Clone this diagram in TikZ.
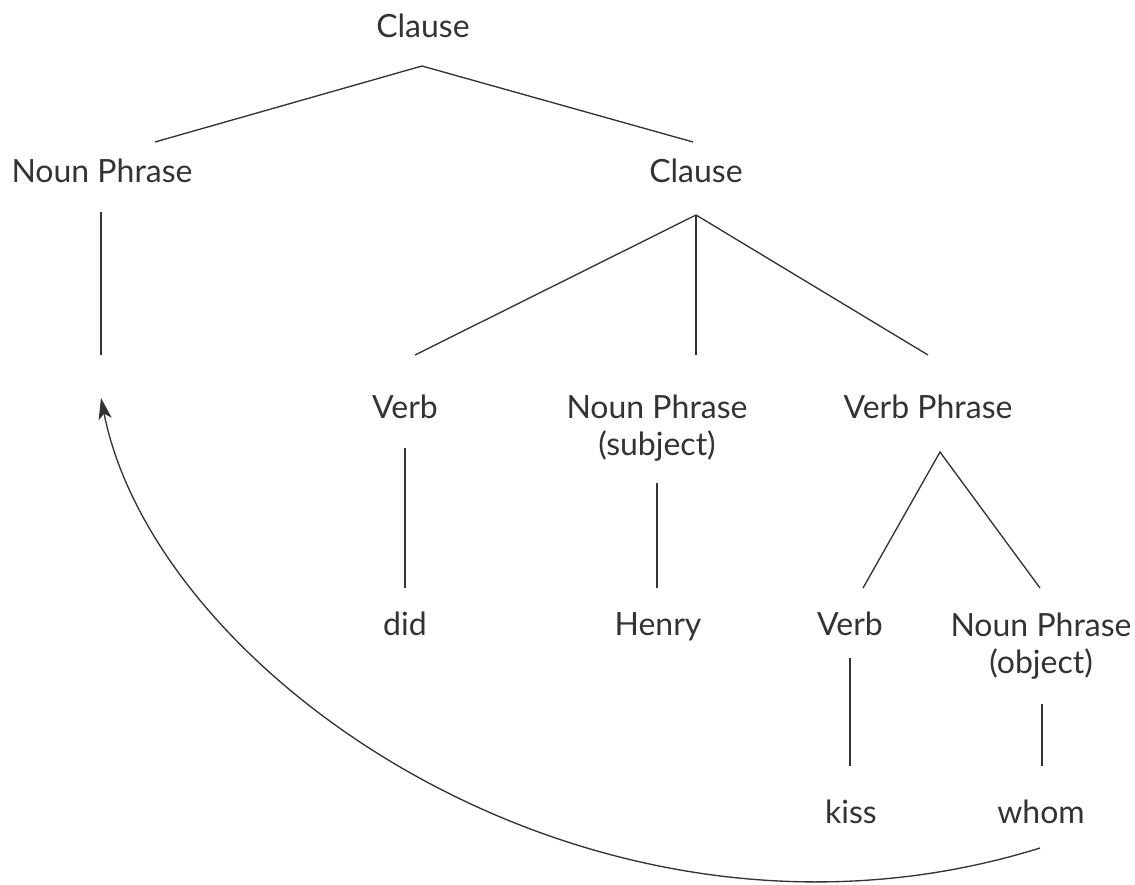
\documentclass[tikz,border=0pt]{standalone}
\usepackage{fontspec}
\usepackage{tikz}
\usetikzlibrary{calc,arrows.meta}
\newfontfamily\phrfont{Lato}
\definecolor{ink}{HTML}{333333}

\begin{document}
\begin{tikzpicture}[x=0.75pt, y=-0.75pt, every node/.style={inner sep=0pt, outer sep=0pt, anchor=base, align=center, text=ink, font=\phrfont\fontsize{24}{27.75}\selectfont}, branch/.style={draw=ink, line width=1pt}]
\useasboundingbox (0,0) rectangle (1135,885);

\node (top) at (423,37) {Clause};
\node (np) at (102,182) {Noun Phrase};
\node (cl) at (696,182) {Clause};

\node (v1) at (405,418) {Verb};
\node (nps) at (657,455) {Noun Phrase\\(subject)};
\node (vp) at (928,418) {Verb Phrase};

\node (did) at (405,635) {did};
\node (henry) at (658,635) {Henry};
\node (v2) at (850,635) {Verb};
\node (npo) at (1041,673) {Noun Phrase\\(object)};

\node (kiss) at (851,823) {kiss};
\node (whom) at (1041,823) {whom};

\coordinate (trace) at (101,398);

\draw[branch] ($(np.base)+(53,-40)$) -- ($(top.base)+(-1,29)$) -- ($(cl.base)+(-3,-40)$);
\draw[branch] ($(np.base)+(-1,30)$) -- ($(trace)+(0,-43)$);

\draw[branch] ($(v1.base)+(10,-63)$) -- ($(cl.base)+(0,33)$) -- ($(vp.base)+(0,-63)$);
\draw[branch] ($(cl.base)+(0,33)$) -- ($(nps.base)+(39,-100)$);

\draw[branch] ($(v1.base)+(0,30)$) -- ($(did.base)+(0,-47)$);
\draw[branch] ($(nps.base)+(0,28)$) -- ($(henry.base)+(-1,-47)$);

\draw[branch] ($(v2.base)+(13,-47)$) -- ($(vp.base)+(12,34)$) -- ($(npo.base)+(-1,-85)$);

\draw[branch] ($(v2.base)+(0,23)$) -- ($(kiss.base)+(-1,-57)$);
\draw[branch] ($(npo.base)+(1,31)$) -- ($(whom.base)+(1,-57)$);

% movement of whom
\draw[branch, -{Stealth[length=16pt, width=10pt, inset=4pt]}] ($(whom.base)+(-1,25)$) .. controls (600,985) and (157,680) .. (trace);
\end{tikzpicture}
\end{document}
